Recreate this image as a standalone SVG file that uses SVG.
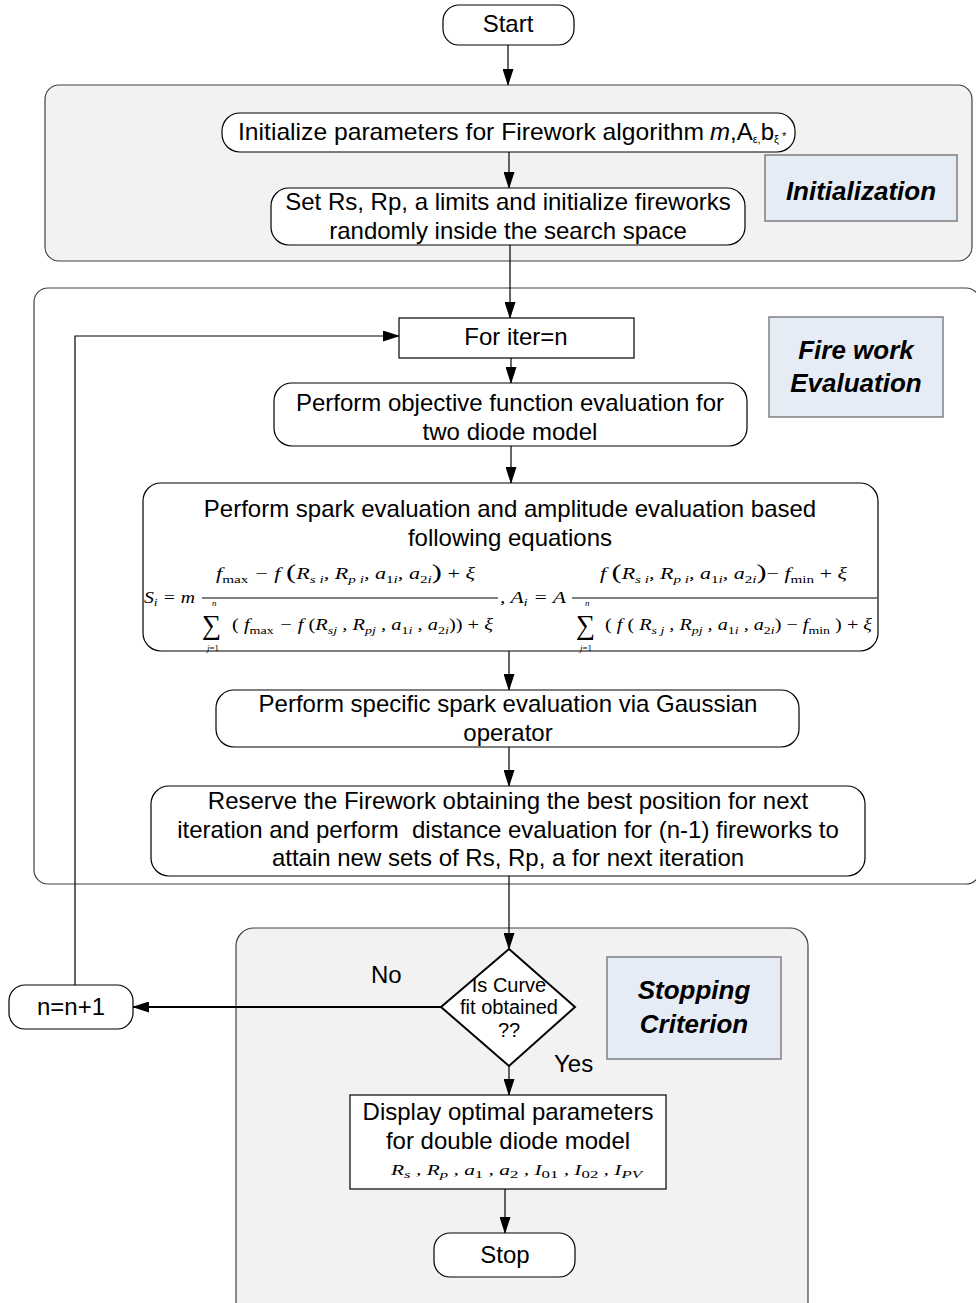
<svg xmlns="http://www.w3.org/2000/svg" width="976" height="1303" viewBox="0 0 976 1303">
<style>
.panel{fill:#f2f2f2;stroke:#404040;stroke-width:1.2}
.panelw{fill:#ffffff;stroke:#404040;stroke-width:1.2}
.node{fill:#ffffff;stroke:#000;stroke-width:1.2}
.lab{fill:#e6ecf6;stroke:#7f7f7f;stroke-width:1.5}
.t{font-family:"Liberation Sans",Arial,sans-serif;font-size:24px;fill:#000;text-anchor:middle}
.tl{font-family:"Liberation Sans",Arial,sans-serif;font-size:24px;fill:#000}
.big{font-family:"Liberation Sans",Arial,sans-serif;font-size:26px;font-weight:bold;font-style:italic;fill:#000;text-anchor:middle}
.d{font-family:"Liberation Sans",Arial,sans-serif;font-size:20px;fill:#000;text-anchor:middle}
.eq{font-family:"Liberation Serif","Times New Roman",serif;font-size:16px;font-style:italic;fill:#000}
.s{font-size:11px}
.u{font-style:normal}
.p{font-size:22px;font-style:normal}
.sum{font-family:"Liberation Serif","Times New Roman",serif;font-size:27px;fill:#000}
.sm{font-family:"Liberation Serif","Times New Roman",serif;font-size:9px;font-style:italic;fill:#000}
.c{fill:none;stroke:#000;stroke-width:1.2}
</style>
<defs>
<marker id="ah" markerUnits="userSpaceOnUse" markerWidth="17" markerHeight="11" refX="16" refY="5.5" orient="auto">
<path d="M0,0 L17,5.5 L0,11 z" fill="#000"/>
</marker>
</defs>

<g id="panels">
<rect id="panel-init" class="panel" x="45" y="85" width="927" height="176" rx="14"/>
<rect id="panel-fire" class="panelw" x="34" y="288" width="946" height="596" rx="14"/>
<rect id="panel-stop" class="panel" x="236" y="928" width="572" height="400" rx="18"/>
</g>

<g id="connectors">
<line class="c" x1="508" y1="45" x2="508" y2="85" marker-end="url(#ah)"/>
<line class="c" x1="509" y1="152" x2="509" y2="188" marker-end="url(#ah)"/>
<line class="c" x1="510" y1="245" x2="510" y2="318" marker-end="url(#ah)"/>
<line class="c" x1="511" y1="358" x2="511" y2="383" marker-end="url(#ah)"/>
<line class="c" x1="511" y1="446" x2="511" y2="483" marker-end="url(#ah)"/>
<line class="c" x1="509" y1="651" x2="509" y2="690" marker-end="url(#ah)"/>
<line class="c" x1="509" y1="747" x2="509" y2="786" marker-end="url(#ah)"/>
<line class="c" x1="509" y1="876" x2="509" y2="949" marker-end="url(#ah)"/>
<line class="c" x1="509" y1="1066" x2="509" y2="1095" marker-end="url(#ah)"/>
<line class="c" x1="505" y1="1189" x2="505" y2="1233" marker-end="url(#ah)"/>
<line class="c" style="stroke-width:1.8" x1="441" y1="1007" x2="133" y2="1007" marker-end="url(#ah)"/>
<polyline class="c" points="75,985 75,336 399,336" marker-end="url(#ah)"/>
</g>

<g id="start">
<rect class="node" x="443" y="5" width="131" height="40" rx="16"/>
<text class="t" x="508" y="32">Start</text>
</g>

<g id="init-params">
<rect class="node" x="222" y="113" width="573" height="39" rx="18"/>
<text class="tl" x="238" y="140" textLength="466" lengthAdjust="spacingAndGlyphs">Initialize parameters for Firework algorithm</text>
<text class="tl" x="710" y="140"><tspan font-style="italic">m</tspan>,A<tspan font-size="11" dy="3">ε,</tspan><tspan dy="-3">b</tspan><tspan font-size="11" dy="3">ξ</tspan><tspan font-size="11" dy="-3"> *</tspan></text>
</g>

<g id="set-limits">
<rect class="node" x="271" y="188" width="474" height="57" rx="18"/>
<text class="t" x="508" y="210">Set Rs, Rp, a limits and initialize fireworks</text>
<text class="t" x="508" y="239">randomly inside the search space</text>
</g>

<g id="label-init">
<rect class="lab" x="765" y="155" width="192" height="66"/>
<text class="big" x="861" y="200">Initialization</text>
</g>

<g id="for-iter">
<rect class="node" x="399" y="318" width="235" height="40"/>
<text class="t" x="516" y="345">For iter=n</text>
</g>

<g id="label-fire">
<rect class="lab" x="769" y="317" width="174" height="100"/>
<text class="big" x="856" y="359">Fire work</text>
<text class="big" x="856" y="392">Evaluation</text>
</g>

<g id="objective">
<rect class="node" x="274" y="383" width="473" height="63" rx="18"/>
<text class="t" x="510" y="411">Perform objective function evaluation for</text>
<text class="t" x="510" y="440">two diode model</text>
</g>

<g id="spark">
<rect class="node" x="143" y="483" width="735" height="168" rx="18"/>
<text class="t" x="510" y="517">Perform spark evaluation and amplitude evaluation based</text>
<text class="t" x="510" y="546">following equations</text>
<text class="eq" x="144" y="603" textLength="51" lengthAdjust="spacingAndGlyphs">S<tspan class="s" dy="3">i</tspan><tspan dy="-3"> = m</tspan></text>
<text class="eq" x="216" y="579" textLength="259" lengthAdjust="spacingAndGlyphs">f<tspan class="s u" dy="4">max</tspan><tspan dy="-4"> − f </tspan><tspan class="p">(</tspan>R<tspan class="s" dy="4">s i</tspan><tspan dy="-4">, R</tspan><tspan class="s" dy="4">p i</tspan><tspan dy="-4">, a</tspan><tspan class="s" dy="4"><tspan class="u">1</tspan>i</tspan><tspan dy="-4">, a</tspan><tspan class="s" dy="4"><tspan class="u">2</tspan>i</tspan><tspan class="p" dy="-4">)</tspan><tspan class="u"> + </tspan>ξ</text>
<line x1="202" y1="598" x2="498" y2="598" stroke="#000" stroke-width="1.2"/>
<text class="sm" x="212" y="606">n</text>
<text class="sum" x="202" y="634">∑</text>
<text class="sm" x="207" y="651">j<tspan font-style="normal">=1</tspan></text>
<text class="eq" x="232" y="630" textLength="261" lengthAdjust="spacingAndGlyphs"><tspan class="u">( </tspan>f<tspan class="s u" dy="4">max</tspan><tspan dy="-4"> − f </tspan><tspan class="u">(</tspan>R<tspan class="s" dy="4">sj</tspan><tspan dy="-4"> , R</tspan><tspan class="s" dy="4">pj</tspan><tspan dy="-4"> , a</tspan><tspan class="s" dy="4"><tspan class="u">1</tspan>i</tspan><tspan dy="-4"> , a</tspan><tspan class="s" dy="4"><tspan class="u">2</tspan>i</tspan><tspan class="u" dy="-4">)) + </tspan>ξ</text>
<text class="eq" x="500" y="603" textLength="66" lengthAdjust="spacingAndGlyphs">, A<tspan class="s" dy="3">i</tspan><tspan dy="-3"> = A</tspan></text>
<text class="eq" x="600" y="579" textLength="247" lengthAdjust="spacingAndGlyphs">f <tspan class="p">(</tspan>R<tspan class="s" dy="4">s i</tspan><tspan dy="-4">, R</tspan><tspan class="s" dy="4">p i</tspan><tspan dy="-4">, a</tspan><tspan class="s" dy="4"><tspan class="u">1</tspan>i</tspan><tspan dy="-4">, a</tspan><tspan class="s" dy="4"><tspan class="u">2</tspan>i</tspan><tspan class="p" dy="-4">)</tspan><tspan class="u">− </tspan>f<tspan class="s u" dy="4">min</tspan><tspan class="u" dy="-4">  + </tspan>ξ</text>
<line x1="572" y1="598" x2="877" y2="598" stroke="#000" stroke-width="1.2"/>
<text class="sm" x="585" y="606">n</text>
<text class="sum" x="576" y="634">∑</text>
<text class="sm" x="580" y="651">j<tspan font-style="normal">=1</tspan></text>
<text class="eq" x="605" y="630" textLength="267" lengthAdjust="spacingAndGlyphs"><tspan class="u">( </tspan>f <tspan class="u">(</tspan> R<tspan class="s" dy="4">s j</tspan><tspan dy="-4"> , R</tspan><tspan class="s" dy="4">pj</tspan><tspan dy="-4"> , a</tspan><tspan class="s" dy="4"><tspan class="u">1</tspan>i</tspan><tspan dy="-4"> , a</tspan><tspan class="s" dy="4"><tspan class="u">2</tspan>i</tspan><tspan class="u" dy="-4">) − </tspan>f<tspan class="s u" dy="4">min</tspan><tspan class="u" dy="-4">  ) + </tspan>ξ</text>
</g>

<g id="gaussian">
<rect class="node" x="216" y="690" width="583" height="57" rx="18"/>
<text class="t" x="508" y="712">Perform specific spark evaluation via Gaussian</text>
<text class="t" x="508" y="741">operator</text>
</g>

<g id="reserve">
<rect class="node" x="151" y="786" width="714" height="90" rx="18"/>
<text class="t" x="508" y="809">Reserve the Firework obtaining the best position for next</text>
<text class="t" x="508" y="838" xml:space="preserve">iteration and perform  distance evaluation for (n-1) fireworks to</text>
<text class="t" x="508" y="866">attain new sets of Rs, Rp, a for next iteration</text>
</g>

<g id="decision">
<polygon points="509,949 575,1007 509,1066 441,1007" fill="#ffffff" stroke="#000" stroke-width="2"/>
<text class="d" x="509" y="992">Is Curve</text>
<text class="d" x="509" y="1014">fit obtained</text>
<text class="d" x="509" y="1037">??</text>
</g>

<g id="label-stop">
<rect class="lab" x="607" y="957" width="174" height="102"/>
<text class="big" x="694" y="999">Stopping</text>
<text class="big" x="694" y="1033">Criterion</text>
</g>

<g id="labels">
<text class="tl" x="371" y="983">No</text>
<text class="tl" x="554" y="1072">Yes</text>
</g>

<g id="increment">
<rect class="node" x="9" y="985" width="124" height="44" rx="16"/>
<text class="t" x="71" y="1015">n=n+1</text>
</g>

<g id="display">
<rect class="node" x="350" y="1095" width="316" height="94"/>
<text class="t" x="508" y="1120">Display optimal parameters</text>
<text class="t" x="508" y="1149">for double diode model</text>
<text class="eq" x="391" y="1175" textLength="251" lengthAdjust="spacingAndGlyphs" style="font-size:14px">R<tspan class="s" dy="3">s</tspan><tspan dy="-3"> , R</tspan><tspan class="s" dy="3">p</tspan><tspan dy="-3"> , a</tspan><tspan class="s u" dy="3">1</tspan><tspan dy="-3"> , a</tspan><tspan class="s u" dy="3">2</tspan><tspan dy="-3"> , I</tspan><tspan class="s u" dy="3">01</tspan><tspan dy="-3"> , I</tspan><tspan class="s u" dy="3">02</tspan><tspan dy="-3"> , I</tspan><tspan class="s" dy="3">PV</tspan></text>
</g>

<g id="stop">
<rect class="node" x="434" y="1233" width="141" height="44" rx="16"/>
<text class="t" x="505" y="1263">Stop</text>
</g>
</svg>
